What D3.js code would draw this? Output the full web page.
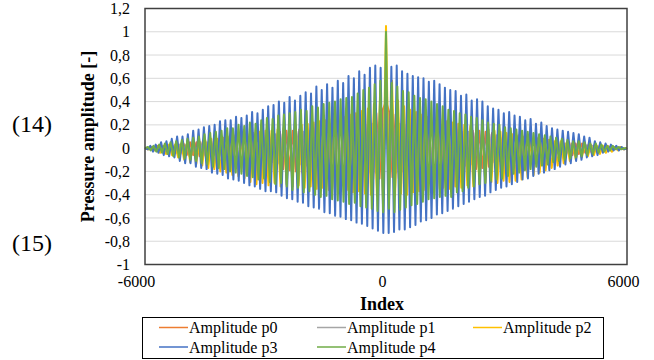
<!DOCTYPE html>
<html>
<head>
<meta charset="utf-8">
<script src="https://cdn.jsdelivr.net/npm/d3@7"></script>
<style>
  html, body { margin: 0; padding: 0; background: #fff; }
  svg { display: block; font-family: "Liberation Serif", "Times New Roman", serif; }
</style>
</head>
<body>
<svg id="chart" width="654" height="360"></svg>
<script>
// Tick labels
const yTicks = [-1, -0.8, -0.6, -0.4, -0.2, 0, 0.2, 0.4, 0.6, 0.8, 1, 1.2];
const xTicks = [-6000, 0, 6000];
const seriesNames = ['Amplitude p0', 'Amplitude p1', 'Amplitude p2', 'Amplitude p3', 'Amplitude p4'];
const seriesColors = ['#ED7D31', '#A5A5A5', '#FFC000', '#4472C4', '#70AD47'];

// Peak / trough values, evenly spread over the index range -6000..6000
const p0 = [0.00, -0.01, 0.01, -0.01, 0.02, -0.03, 0.02, -0.03, 0.03, -0.04, 0.03, -0.05, 0.04, -0.06, 0.05, -0.06,
  0.05, -0.07, 0.06, -0.08, 0.06, -0.09, 0.07, -0.09, 0.08, -0.10, 0.08, -0.12, 0.09, -0.12, 0.10, -0.13, 0.10,
  -0.14, 0.11, -0.15, 0.12, -0.16, 0.12, -0.17, 0.13, -0.18, 0.14, -0.18, 0.15, -0.19, 0.15, -0.20, 0.16, -0.21,
  0.17, -0.22, 0.18, -0.21, 0.19, -0.23, 0.20, -0.22, 0.21, -0.24, 0.21, -0.23, 0.22, -0.25, 0.24, -0.24, 0.25,
  -0.26, 0.26, -0.25, 0.28, -0.27, 0.30, -0.26, 0.33, 0.40, 0.31, -0.25, 0.29, -0.26, 0.27, -0.24, 0.25, -0.25,
  0.24, -0.23, 0.23, -0.24, 0.22, -0.22, 0.21, -0.23, 0.20, -0.21, 0.19, -0.21, 0.18, -0.20, 0.17, -0.19, 0.16,
  -0.19, 0.15, -0.18, 0.15, -0.17, 0.14, -0.16, 0.13, -0.16, 0.12, -0.15, 0.12, -0.14, 0.11, -0.13, 0.10, -0.12,
  0.10, -0.11, 0.09, -0.10, 0.08, -0.10, 0.08, -0.09, 0.07, -0.08, 0.06, -0.07, 0.06, -0.06, 0.05, -0.06, 0.04,
  -0.05, 0.04, -0.04, 0.03, -0.04, 0.03, -0.03, 0.02, -0.02, 0.02, -0.02, 0.01, -0.01, 0.01, -0.01, 0.00];

const p1 = [0.00, -0.01, 0.01, -0.02, 0.01, -0.02, 0.02, -0.03, 0.02, -0.04, 0.03, -0.04, 0.03, -0.05, 0.04, -0.05,
  0.05, -0.06, 0.05, -0.06, 0.06, -0.07, 0.06, -0.08, 0.07, -0.08, 0.08, -0.09, 0.08, -0.10, 0.09, -0.10, 0.10,
  -0.11, 0.10, -0.11, 0.11, -0.12, 0.12, -0.13, 0.12, -0.13, 0.13, -0.14, 0.14, -0.14, 0.14, -0.15, 0.15, -0.16,
  0.16, -0.16, 0.16, -0.17, 0.17, -0.17, 0.18, -0.18, 0.18, -0.19, 0.19, -0.19, 0.20, -0.20, 0.20, -0.21, 0.21,
  -0.21, 0.22, -0.20, 0.30, -0.21, 0.22, -0.21, 0.21, -0.20, 0.20, -0.20, 0.19, -0.19, 0.19, -0.18, 0.18, -0.18,
  0.17, -0.17, 0.16, -0.17, 0.16, -0.16, 0.15, -0.15, 0.14, -0.15, 0.14, -0.14, 0.13, -0.13, 0.12, -0.13, 0.12,
  -0.12, 0.11, -0.11, 0.10, -0.10, 0.10, -0.10, 0.09, -0.09, 0.08, -0.08, 0.08, -0.08, 0.07, -0.07, 0.06, -0.06,
  0.06, -0.06, 0.05, -0.05, 0.04, -0.04, 0.04, -0.04, 0.03, -0.03, 0.03, -0.03, 0.02, -0.02, 0.02, -0.02, 0.01,
  -0.01, 0.01, -0.01, 0.01, -0.01, 0.00];

const p2 = [0.00, -0.01, 0.01, -0.02, 0.01, -0.04, 0.02, -0.05, 0.03, -0.06, 0.03, -0.08, 0.04, -0.10, 0.05, -0.12,
  0.05, -0.14, 0.06, -0.15, 0.07, -0.17, 0.08, -0.18, 0.08, -0.20, 0.09, -0.21, 0.10, -0.23, 0.11, -0.24, 0.12,
  -0.26, 0.12, -0.29, 0.13, -0.31, 0.14, -0.30, 0.15, -0.32, 0.15, -0.30, 0.16, -0.33, 0.17, -0.31, 0.18, -0.33,
  0.19, -0.32, 0.20, -0.34, 0.21, -0.33, 0.22, -0.35, 0.23, -0.34, 0.24, -0.36, 0.25, -0.35, 0.26, -0.37, 0.27,
  -0.36, 0.29, -0.38, 0.30, -0.37, 0.32, -0.39, 0.34, -0.40, 0.38, -0.41, 0.42, -0.43, 1.05, -0.40, 0.58, -0.41,
  0.41, -0.39, 0.36, -0.40, 0.33, -0.38, 0.31, -0.37, 0.29, -0.36, 0.27, -0.36, 0.26, -0.35, 0.25, -0.34, 0.23,
  -0.35, 0.22, -0.33, 0.21, -0.34, 0.20, -0.32, 0.19, -0.33, 0.18, -0.31, 0.17, -0.30, 0.16, -0.29, 0.15, -0.30,
  0.14, -0.28, 0.13, -0.29, 0.12, -0.28, 0.11, -0.27, 0.10, -0.25, 0.09, -0.23, 0.09, -0.21, 0.08, -0.19, 0.07,
  -0.17, 0.06, -0.15, 0.06, -0.13, 0.05, -0.11, 0.04, -0.10, 0.04, -0.08, 0.03, -0.07, 0.03, -0.06, 0.02, -0.05,
  0.02, -0.04, 0.01, -0.03, 0.01, -0.02, 0.01, -0.01, 0.00];

const p3 = [0.00, -0.01, 0.02, -0.03, 0.03, -0.04, 0.05, -0.06, 0.06, -0.07, 0.08, -0.08, 0.10, -0.11, 0.10, -0.13,
  0.12, -0.13, 0.15, -0.16, 0.16, -0.17, 0.18, -0.18, 0.19, -0.21, 0.20, -0.22, 0.23, -0.23, 0.24, -0.26, 0.24,
  -0.27, 0.27, -0.28, 0.26, -0.30, 0.28, -0.32, 0.31, -0.33, 0.30, -0.35, 0.33, -0.37, 0.36, -0.37, 0.37, -0.38,
  0.40, -0.41, 0.39, -0.43, 0.44, -0.44, 0.41, -0.46, 0.45, -0.47, 0.48, -0.50, 0.47, -0.51, 0.53, -0.52, 0.50,
  -0.55, 0.55, -0.56, 0.52, -0.58, 0.58, -0.59, 0.56, -0.61, 0.62, -0.62, 0.60, -0.64, 0.66, -0.65, 0.63, -0.67,
  0.69, -0.69, 0.71, -0.71, 0.69, -0.73, 0.62, -0.73, 0.70, -0.72, 0.71, -0.70, 0.66, -0.70, 0.64, -0.68, 0.62,
  -0.66, 0.61, -0.63, 0.60, -0.62, 0.57, -0.60, 0.58, -0.57, 0.55, -0.56, 0.52, -0.54, 0.50, -0.52, 0.49, -0.50,
  0.45, -0.48, 0.46, -0.46, 0.41, -0.44, 0.42, -0.42, 0.40, -0.41, 0.36, -0.38, 0.34, -0.36, 0.33, -0.34, 0.30,
  -0.33, 0.31, -0.31, 0.28, -0.29, 0.27, -0.27, 0.24, -0.26, 0.25, -0.24, 0.21, -0.22, 0.22, -0.21, 0.19, -0.19,
  0.17, -0.18, 0.16, -0.16, 0.15, -0.14, 0.14, -0.13, 0.13, -0.11, 0.12, -0.10, 0.10, -0.08, 0.09, -0.07, 0.06,
  -0.06, 0.05, -0.04, 0.04, -0.03, 0.03, -0.02, 0.02, -0.02, 0.01, -0.01, 0.00];

const p4 = [0.00, 0.01, -0.02, 0.02, -0.03, 0.03, -0.04, 0.04, -0.05, 0.05, -0.07, 0.06, -0.08, 0.07, -0.09, 0.08,
  -0.10, 0.09, -0.11, 0.10, -0.13, 0.12, -0.14, 0.13, -0.16, 0.14, -0.17, 0.15, -0.18, 0.17, -0.20, 0.17, -0.21,
  0.20, -0.22, 0.19, -0.24, 0.22, -0.25, 0.21, -0.27, 0.24, -0.26, 0.26, -0.29, 0.25, -0.31, 0.28, -0.30, 0.29,
  -0.33, 0.30, -0.36, 0.31, -0.34, 0.33, -0.38, 0.32, -0.37, 0.36, -0.40, 0.35, -0.42, 0.38, -0.41, 0.39, -0.44,
  0.40, -0.45, 0.42, -0.46, 0.43, -0.48, 0.44, -0.47, 0.47, -0.50, 0.50, -0.51, 0.52, -0.52, 0.55, -0.54, 0.58,
  -0.55, 1.00, -0.52, 0.56, -0.55, 0.53, -0.53, 0.49, -0.51, 0.48, -0.49, 0.45, -0.48, 0.43, -0.46, 0.42, -0.44,
  0.40, -0.43, 0.38, -0.42, 0.36, -0.41, 0.33, -0.42, 0.32, -0.38, 0.30, -0.37, 0.29, -0.34, 0.27, -0.33, 0.26,
  -0.31, 0.24, -0.30, 0.22, -0.28, 0.21, -0.27, 0.20, -0.26, 0.18, -0.24, 0.17, -0.22, 0.16, -0.21, 0.15, -0.19,
  0.14, -0.18, 0.13, -0.16, 0.12, -0.15, 0.11, -0.14, 0.10, -0.12, 0.09, -0.11, 0.08, -0.10, 0.07, -0.09, 0.06,
  -0.08, 0.06, -0.07, 0.05, -0.06, 0.04, -0.05, 0.04, -0.04, 0.03, -0.03, 0.02, -0.02, 0.02, -0.01, 0.01, -0.01,
  0.00, 0.00];

const allSeries = [p0, p1, p2, p3, p4];

const svg = d3.select('#chart');
const plot = { left: 145, right: 627, top: 8.5, bottom: 264.5 };

const x = d3.scaleLinear().domain([-6000, 6000]).range([plot.left, plot.right]);
const y = d3.scaleLinear().domain([-1, 1.2]).range([plot.bottom, plot.top]);
const fmt = d => String(+d.toFixed(1)).replace('.', ',');

// Grid lines
svg.append('g')
  .selectAll('line')
  .data(yTicks)
  .join('line')
  .attr('x1', plot.left).attr('x2', plot.right)
  .attr('y1', d => y(d)).attr('y2', d => y(d))
  .attr('stroke', '#d9d9d9')
  .attr('stroke-width', 1);

// Series
const lineGroup = svg.append('g');
allSeries.forEach((vals, s) => {
  const idx = d3.scaleLinear().domain([0, vals.length - 1]).range([-6000, 6000]);
  const line = d3.line()
    .x((d, i) => x(idx(i)))
    .y(d => y(d));
  lineGroup.append('path')
    .datum(vals)
    .attr('fill', 'none')
    .attr('stroke', seriesColors[s])
    .attr('stroke-width', 2)
    .attr('stroke-linejoin', 'round')
    .attr('d', line);
});

// Plot area border
svg.append('rect')
  .attr('x', plot.left).attr('y', plot.top)
  .attr('width', plot.right - plot.left).attr('height', plot.bottom - plot.top)
  .attr('fill', 'none')
  .attr('stroke', '#404040')
  .attr('stroke-width', 1.5);

// Y axis labels
svg.append('g')
  .attr('transform', `translate(${plot.left},0)`)
  .call(d3.axisLeft(y).tickValues(yTicks).tickSize(0).tickPadding(15).tickFormat(fmt))
  .call(g => g.select('.domain').remove())
  .selectAll('text')
  .attr('font-family', '"Liberation Serif", serif')
  .attr('font-size', '16px')
  .attr('fill', '#000');

// X axis labels
svg.append('g')
  .attr('transform', `translate(0,${plot.bottom})`)
  .call(d3.axisBottom(x).tickValues(xTicks).tickSize(0).tickPadding(11).tickFormat(d => String(d)))
  .call(g => g.select('.domain').remove())
  .selectAll('text')
  .attr('dx', d => d === -6000 ? -9 : -4)
  .attr('font-family', '"Liberation Serif", serif')
  .attr('font-size', '16px')
  .attr('fill', '#000');

// Axis titles
svg.append('text')
  .attr('transform', `translate(94,${(plot.top + plot.bottom) / 2}) rotate(-90)`)
  .attr('text-anchor', 'middle')
  .attr('font-weight', 'bold')
  .attr('font-size', '18px')
  .text('Pressure amplitude [-]');

svg.append('text')
  .attr('x', 382).attr('y', 310)
  .attr('text-anchor', 'middle')
  .attr('font-weight', 'bold')
  .attr('font-size', '18px')
  .text('Index');

// Equation numbers
svg.append('text').attr('x', 12).attr('y', 132).attr('font-size', '24px').text('(14)');
svg.append('text').attr('x', 12).attr('y', 251).attr('font-size', '24px').text('(15)');

// Legend
const legend = svg.append('g');
legend.append('rect')
  .attr('x', 142.5).attr('y', 317.5).attr('width', 461).attr('height', 41)
  .attr('fill', '#fff').attr('stroke', '#000').attr('stroke-width', 1);

const legendCols = [159, 317, 473];
const legendRows = [327.5, 347];
const item = legend.selectAll('g.item')
  .data(seriesNames)
  .join('g')
  .attr('class', 'item')
  .attr('transform', (d, i) => `translate(${legendCols[i % 3]},${legendRows[Math.floor(i / 3)]})`);
item.append('line')
  .attr('x1', 0).attr('x2', 29)
  .attr('stroke', (d, i) => seriesColors[i])
  .attr('stroke-width', 1.5);
item.append('text')
  .attr('x', 30).attr('y', 5.5)
  .attr('font-size', '16px')
  .text(d => d);
</script>
</body>
</html>
